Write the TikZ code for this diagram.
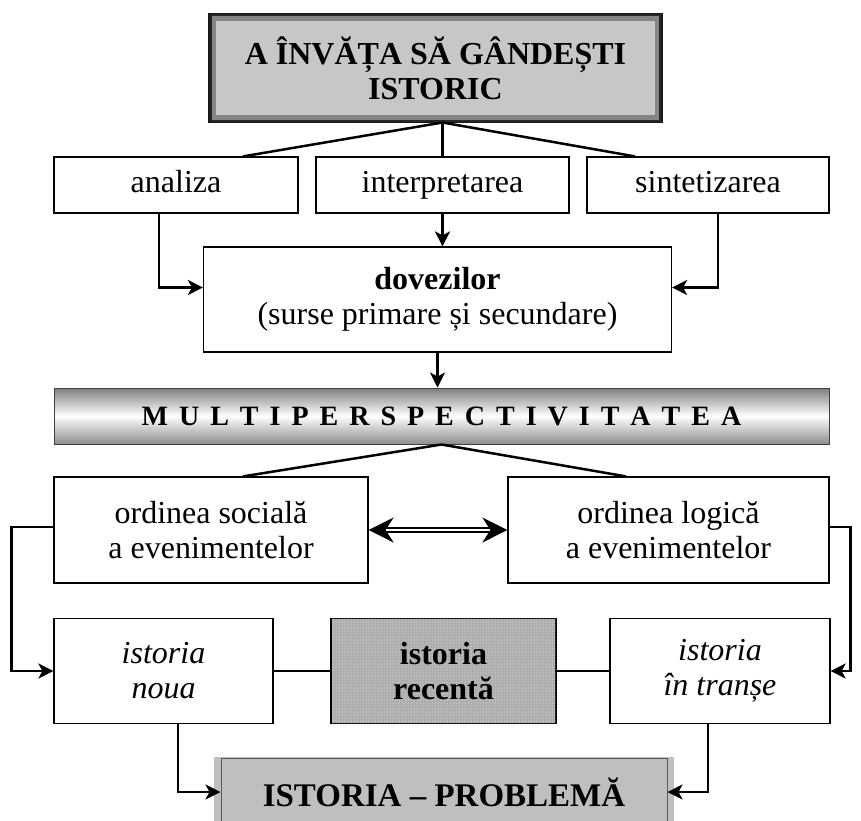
\documentclass[tikz,border=0pt]{standalone}
\usepackage{fontspec}
\setmainfont{Liberation Serif}
\usetikzlibrary{arrows.meta,calc,patterns,shadows}
\begin{document}
\begin{tikzpicture}[x=1pt,y=-1pt,
  box/.style={draw, line width=1.2pt, fill=white, inner sep=0pt, align=center,
    font=\fontsize{32}{35}\selectfont},
  onerow/.style={text height=22pt, text depth=8pt},
  conn/.style={line width=2.5pt},
  arr/.style={line width=2.5pt, -{Stealth[length=15pt,width=15pt,inset=4pt]}},
  dbl/.style={double, double distance=2.5pt, line width=2.2pt,
    {Stealth[length=25pt,width=25pt,inset=8pt]}-{Stealth[length=25pt,width=25pt,inset=8pt]}},
]
\useasboundingbox (0,0) rectangle (861,820);
\clip (0,0) rectangle (861,820);
% title
\node[box, fill=black!22, draw=black!85, line width=3pt, minimum width=450, minimum height=106,
  font=\bfseries\fontsize{32}{35}\selectfont] (top) at (435.5,68) {A ÎNVĂȚA SĂ GÂNDEȘTI\\ISTORIC};
\draw[black!48, line width=4.5pt] ([shift={(5pt,-5pt)}]top.north west) rectangle ([shift={(-5pt,5pt)}]top.south east);
\draw[black!90, line width=1.2pt] (top.north west) rectangle (top.south east);
% row 2
\node[box, onerow, minimum width=244, minimum height=56] (ana) at (176,185) {analiza};
\node[box, onerow, minimum width=253, minimum height=56] (int) at (442.5,185) {interpretarea};
\node[box, onerow, minimum width=242, minimum height=56] (sin) at (708,185) {sintetizarea};
\coordinate (apex) at (top.south -| int.north);
\draw[conn] (apex) -- ([xshift=67pt]ana.north);
\draw[conn] (apex) -- (int.north);
\draw[conn] (apex) -- ([xshift=-73pt]sin.north);
% dovezilor
\node[box, minimum width=468, minimum height=105] (dov) at (437.5,299.5) {\textbf{dovezilor}\\(surse primare și secundare)};
\draw[arr] ([xshift=-17pt]ana.south) |- ([yshift=12pt]dov.west);
\draw[arr] ([xshift=10pt]sin.south) |- ([yshift=12pt]dov.east);
\draw[arr] (int.south) -- (int.south |- dov.north);
% multiperspectivitatea
\node[box, draw=black!75, line width=1pt, top color=black!50, bottom color=black!45, middle color=white,
  minimum width=775, minimum height=56,
  font=\bfseries\fontsize{28}{30}\selectfont] (multi) at (441.5,416)
  {\spaceskip=11pt\relax M U L T I P E R S P E C T I V I T A T E A};
\draw[arr] (dov.south) -- (dov.south |- multi.north);
% row 3
\node[box, minimum width=314, minimum height=106] (soc) at (211,530) {ordinea socială\\a evenimentelor};
\node[box, minimum width=321, minimum height=106] (log) at (668.5,530) {ordinea logică\\a evenimentelor};
\draw[conn] (multi.south) -- ([xshift=32pt]soc.north);
\draw[conn] (multi.south) -- ([xshift=-42.5pt]log.north);
\draw[dbl] (soc.east) -- (log.west);
% row 4
\node[box, minimum width=219, minimum height=105] (noua) at (163.5,671) {\itshape istoria\\\itshape noua};
\node[box, fill=black!32, postaction={pattern=dots, pattern color=white}, minimum width=225, minimum height=105,
  font=\bfseries\fontsize{32}{35}\selectfont] (rec) at (443.5,671) {istoria\\recentă};
\node[box, minimum width=220, minimum height=105] (transe) at (720,671) {\itshape istoria\\\itshape în tranșe};
\draw[conn] (noua) -- (rec);
\draw[conn] (rec) -- (transe);
\draw[arr] ([yshift=3pt]soc.west) -- ++(-42,0) |- (noua.west);
\draw[arr] ([yshift=3pt]log.east) -- ++(21,0) |- (transe.east);
% bottom
\node[box, fill=black!25, draw=black!65, line width=1pt,
  general shadow={shadow xshift=0pt, shadow yshift=0pt, shadow scale=1.03, fill=black, opacity=.25},
  minimum width=446, minimum height=68, font=\bfseries\fontsize{33}{36}\selectfont] (prob) at (444,792) {ISTORIA – PROBLEMĂ};
\draw[arr] ([xshift=14.5pt]noua.south) |- (prob.west);
\draw[arr] ([xshift=-12pt]transe.south) |- (prob.east);
\end{tikzpicture}
\end{document}
